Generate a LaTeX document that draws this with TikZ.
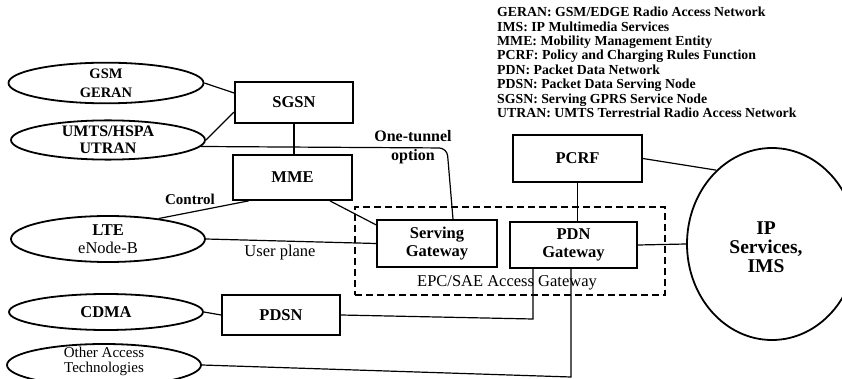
\documentclass[tikz,border=0pt]{standalone}
\usepackage{fontspec}
\setmainfont{Liberation Serif}
\usetikzlibrary{shapes.geometric}
\begin{document}
\begin{tikzpicture}[x=1pt,y=-1pt,
  lbl/.style={font=\fontsize{15}{18}\selectfont\bfseries, align=center, inner sep=0pt},
  reg/.style={font=\fontsize{16.5}{18}\selectfont, align=center, inner sep=0pt},
  oval/.style={draw, ellipse, line width=1.8pt, inner sep=0pt, align=center, font=\fontsize{16.5}{18}\selectfont},
  blk/.style={draw, rectangle, line width=1.8pt, inner sep=0pt, align=center, font=\fontsize{16.5}{18}\selectfont\bfseries},
  wire/.style={line width=1.2pt},
  gwbox/.style={draw, rectangle, dashed, dash pattern=on 7pt off 4pt, line width=1.6pt, inner sep=0pt},
]
\useasboundingbox (0,0) rectangle (842,379);
\clip (0,0) rectangle (842,379);

% legend
\node[anchor=north west, align=left, inner sep=0pt,
      font=\fontsize{13.8}{14.4}\selectfont\bfseries] (legend) at (497,7)
 {GERAN: GSM/EDGE Radio Access Network\\
  IMS: IP Multimedia Services\\
  MME: Mobility Management Entity\\
  PCRF: Policy and Charging Rules Function\\
  PDN: Packet Data Network\\
  PDSN: Packet Data Serving Node\\
  SGSN: Serving GPRS Service Node\\
  UTRAN: UMTS Terrestrial Radio Access Network};

% access ellipses
\node[oval, minimum width=195pt, minimum height=40pt, font=\fontsize{14.5}{19}\selectfont\bfseries] (gsm) at (106,83) {GSM\\GERAN};
\node[oval, minimum width=194pt, minimum height=36pt, font=\fontsize{16}{17}\selectfont\bfseries] (umts) at (108,140) {UMTS/HSPA\\UTRAN};
\node[oval, minimum width=194pt, minimum height=46pt] (lte) at (108,239) {\textbf{LTE}\\eNode-B};
\node[oval, minimum width=194pt, minimum height=36pt, font=\fontsize{16.5}{18}\selectfont\bfseries] (cdma) at (106,312) {CDMA};
\node[oval, minimum width=194pt, minimum height=42pt] (other) at (104,365) {};
\node[reg, font=\fontsize{15}{15}\selectfont] (othertxt) at (104,361.5) {Other Access\\Technologies};

% core boxes
\node[blk, minimum width=118pt, minimum height=41pt] (sgsn) at (294,102.5) {SGSN};
\node[blk, minimum width=119pt, minimum height=45pt] (mme) at (292.5,177.5) {MME};
\node[blk, minimum width=118pt, minimum height=40pt] (pdsn) at (281,315) {PDSN};
\node[blk, minimum width=120pt, minimum height=47pt] (sgw) at (437,243.5) {Serving\\Gateway};
\node[blk, minimum width=127pt, minimum height=46pt] (pgw) at (573.5,245) {PDN\\Gateway};
\node[blk, minimum width=129pt, minimum height=47pt] (pcrf) at (577.5,158.5) {PCRF};

% EPC/SAE access gateway
\node[gwbox, minimum width=310pt, minimum height=88pt] (epc) at (510,251) {};
\node[reg] (epclbl) at (507,283) {EPC/SAE Access Gateway};

% IP services
\node[oval, minimum width=170pt, minimum height=192pt] (ip) at (772,244) {};
\node[font=\fontsize{19.5}{19}\selectfont\bfseries, align=center, inner sep=0pt] (iplbl) at (766,247) {IP\\Services,\\IMS};

% labels
\node[lbl] (ctl) at (190,199) {Control};
\node[reg] (up) at (280,253) {User plane};
\node[lbl, font=\fontsize{16}{19}\selectfont\bfseries] (tun) at (413,147) {One-tunnel\\option};

% coordinates for bends
\coordinate (tc) at (447,148);
\coordinate (pd) at (533,319);
\coordinate (ot) at (571,377);

% connectors
\draw[wire] (gsm.east) -- ([yshift=9.5pt]sgsn.west);
\draw[wire] (umts.east) -- ([yshift=-9.5pt]sgsn.west);
\draw[wire] (sgsn.south) -- (sgsn.south |- mme.north);
\draw[wire, rounded corners=8pt] (umts.-4.5) -- (tc) -- ([xshift=16pt]sgw.north);
\draw[wire] (mme.-152) -- (lte.22);
\draw[wire] (mme.-32) -- (sgw.163);
\draw[wire] (lte.east) -- (sgw.west);
\draw[wire] (cdma.east) -- (pdsn.west);
\draw[wire] (pdsn.east) -- (pd) -- (pd |- pgw.south);
\draw[wire] (other.east) -- (ot) -- (ot |- pgw.south);
\draw[wire] (pcrf.south) -- (pcrf.south |- pgw.north);
\draw[wire] (pcrf.east) -- (ip.127);
\draw[wire] (pgw.east) -- (ip.west);
\end{tikzpicture}
\end{document}
